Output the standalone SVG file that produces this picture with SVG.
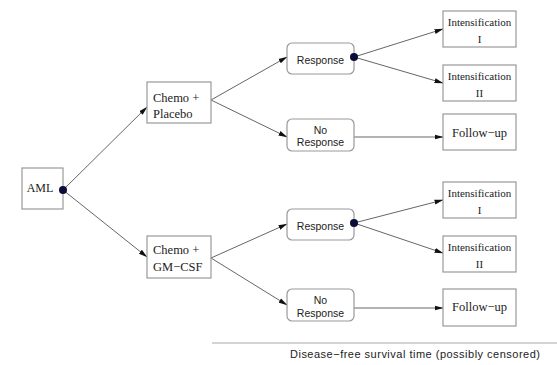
<svg xmlns="http://www.w3.org/2000/svg" width="557" height="365" viewBox="0 0 557 365">
<defs>
<marker id="arr" markerWidth="9" markerHeight="6" refX="8.5" refY="3" orient="auto" markerUnits="userSpaceOnUse">
<path d="M0,0.5 L9,3 L0,5.5 z" fill="#111"/>
</marker>
<style>
.box{fill:#fff;stroke:#999;stroke-width:1.2}
.rbox{fill:#fff;stroke:#999;stroke-width:1.2}
.serif{font-family:"Liberation Serif","Times New Roman",serif;fill:#222}
.sans{font-family:"Liberation Sans",Arial,sans-serif;fill:#222}
.ln{stroke:#666;stroke-width:1;fill:none}
.dot{fill:#0c0c3c}
</style>
</defs>
<rect width="557" height="365" fill="#fff"/>
<g id="connectors">
<line class="ln" x1="63" y1="190" x2="147" y2="107" marker-end="url(#arr)"/>
<line class="ln" x1="63" y1="190" x2="147" y2="257" marker-end="url(#arr)"/>
<line class="ln" x1="211" y1="100" x2="287" y2="57" marker-end="url(#arr)"/>
<line class="ln" x1="211" y1="100" x2="287" y2="137" marker-end="url(#arr)"/>
<line class="ln" x1="354" y1="57" x2="443" y2="29" marker-end="url(#arr)"/>
<line class="ln" x1="354" y1="57" x2="443" y2="83" marker-end="url(#arr)"/>
<line class="ln" x1="354" y1="137" x2="443" y2="137" marker-end="url(#arr)"/>
<line class="ln" x1="211" y1="258" x2="287" y2="224" marker-end="url(#arr)"/>
<line class="ln" x1="211" y1="258" x2="287" y2="305" marker-end="url(#arr)"/>
<line class="ln" x1="354" y1="223" x2="443" y2="200" marker-end="url(#arr)"/>
<line class="ln" x1="354" y1="223" x2="443" y2="253" marker-end="url(#arr)"/>
<line class="ln" x1="354" y1="308" x2="443" y2="308" marker-end="url(#arr)"/>
</g>
<g id="aml">
<rect class="box" x="22" y="168" width="41" height="41"/>
<text class="serif" x="40" y="192" font-size="12" text-anchor="middle">AML</text>
<circle class="dot" cx="63" cy="190" r="4"/>
</g>
<g id="chemo-placebo">
<rect class="box" x="147" y="82" width="64" height="41"/>
<text class="serif" x="153" y="102" font-size="12.5">Chemo +</text>
<text class="serif" x="153" y="118" font-size="12.5">Placebo</text>
</g>
<g id="chemo-gmcsf">
<rect class="box" x="147" y="236" width="64" height="42"/>
<text class="serif" x="153" y="254" font-size="12.5">Chemo +</text>
<text class="serif" x="153" y="271" font-size="12.5">GM−CSF</text>
</g>
<g id="response1">
<rect class="rbox" x="287" y="43" width="67" height="31" rx="5"/>
<text class="sans" x="320.5" y="64" font-size="10.5" text-anchor="middle">Response</text>
<circle class="dot" cx="354" cy="57" r="4"/>
</g>
<g id="noresponse1">
<rect class="rbox" x="287" y="119" width="67" height="32" rx="5"/>
<text class="sans" x="320.5" y="133.5" font-size="10.5" text-anchor="middle">No</text>
<text class="sans" x="320.5" y="145.5" font-size="10.5" text-anchor="middle">Response</text>
</g>
<g id="response2">
<rect class="rbox" x="287" y="209" width="67" height="31" rx="5"/>
<text class="sans" x="320.5" y="230" font-size="10.5" text-anchor="middle">Response</text>
<circle class="dot" cx="354" cy="223" r="4"/>
</g>
<g id="noresponse2">
<rect class="rbox" x="287" y="289" width="67" height="32" rx="5"/>
<text class="sans" x="320.5" y="304" font-size="10.5" text-anchor="middle">No</text>
<text class="sans" x="320.5" y="316.5" font-size="10.5" text-anchor="middle">Response</text>
</g>
<g id="int1a">
<rect class="box" x="443" y="11" width="73" height="36"/>
<text class="serif" x="479.5" y="26" font-size="11" text-anchor="middle">Intensification</text>
<text class="serif" x="479.5" y="43" font-size="11" text-anchor="middle">I</text>
</g>
<g id="int2a">
<rect class="box" x="443" y="65" width="73" height="36"/>
<text class="serif" x="479.5" y="80" font-size="11" text-anchor="middle">Intensification</text>
<text class="serif" x="479.5" y="97" font-size="11" text-anchor="middle">II</text>
</g>
<g id="followup1">
<rect class="box" x="443" y="114" width="73" height="36"/>
<text class="serif" x="479.5" y="137" font-size="12.5" text-anchor="middle">Follow−up</text>
</g>
<g id="int1b">
<rect class="box" x="443" y="182" width="73" height="36"/>
<text class="serif" x="479.5" y="197" font-size="11" text-anchor="middle">Intensification</text>
<text class="serif" x="479.5" y="214" font-size="11" text-anchor="middle">I</text>
</g>
<g id="int2b">
<rect class="box" x="443" y="236" width="73" height="36"/>
<text class="serif" x="479.5" y="251" font-size="11" text-anchor="middle">Intensification</text>
<text class="serif" x="479.5" y="268" font-size="11" text-anchor="middle">II</text>
</g>
<g id="followup2">
<rect class="box" x="443" y="289" width="73" height="37"/>
<text class="serif" x="479.5" y="311" font-size="12.5" text-anchor="middle">Follow−up</text>
</g>
<g id="axis">
<line x1="212" y1="343" x2="557" y2="343" stroke="#aaa" stroke-width="1.2"/>
<text class="sans" x="290" y="358" font-size="11" textLength="250" lengthAdjust="spacing">Disease−free survival time (possibly censored)</text>
</g>
</svg>
